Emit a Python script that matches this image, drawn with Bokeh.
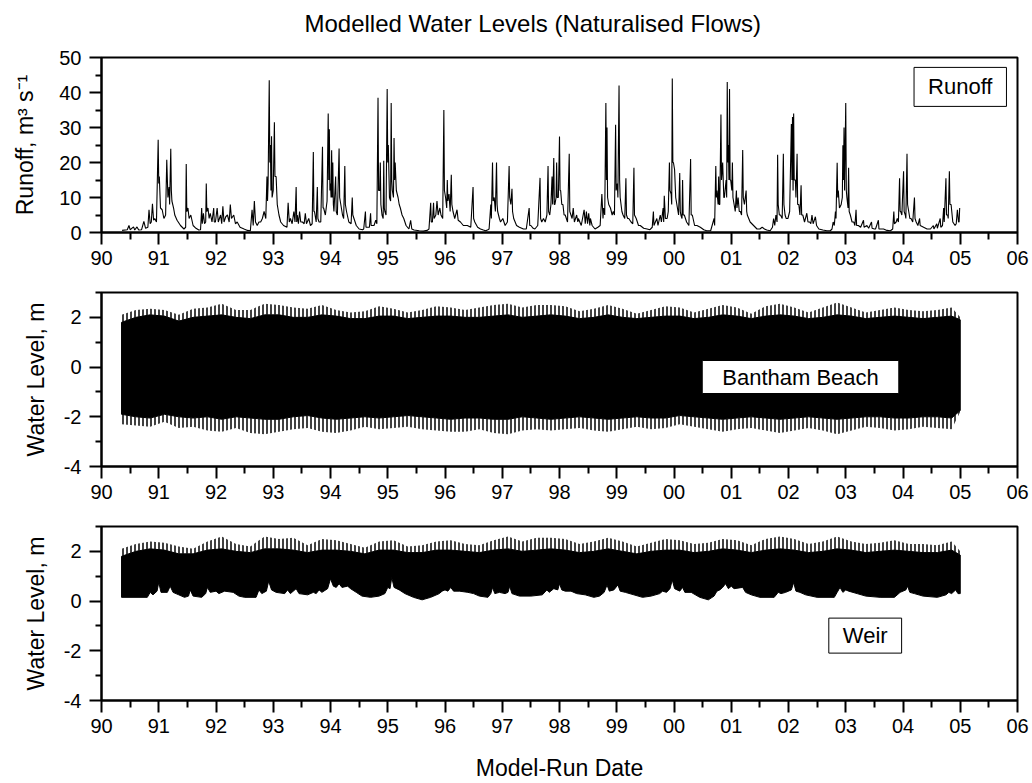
from bokeh.plotting import figure
from bokeh.layouts import column
from bokeh.models import FixedTicker, Label, Range1d, Title
from bokeh.embed import file_html
from bokeh.resources import INLINE

FONT = "Liberation Sans"

# ---------------- data ----------------
year_ticks = list(range(90, 107))
year_labels = ["90", "91", "92", "93", "94", "95", "96", "97", "98", "99",
               "00", "01", "02", "03", "04", "05", "06"]
year_minor = [90.5, 91.5, 92.5, 93.5, 94.5, 95.5, 96.5, 97.5, 98.5, 99.5,
              100.5, 101.5, 102.5, 103.5, 104.5, 105.5]
runoff_ticks = [0, 10, 20, 30, 40, 50]
runoff_labels = ["0", "10", "20", "30", "40", "50"]
runoff_minor = [5, 15, 25, 35, 45]
level_ticks = [-4, -2, 0, 2]
level_labels = ["-4", "-2", "0", "2"]
level_minor = [-3, -1, 1, 3]

runoff_t = [
    90.36, 90.45, 90.48, 90.50, 90.56, 90.58, 90.62, 90.65, 90.70, 90.74,
    90.77, 90.81, 90.83, 90.85, 90.87, 90.89, 90.91, 90.93, 90.96, 90.99,
    91.00, 91.01, 91.03, 91.06, 91.09, 91.12, 91.14, 91.16, 91.18, 91.19,
    91.21, 91.22, 91.23, 91.26, 91.28, 91.32, 91.38, 91.44, 91.47, 91.48,
    91.49, 91.51, 91.53, 91.56, 91.60, 91.65, 91.70, 91.73, 91.75, 91.76,
    91.78, 91.80, 91.82, 91.83, 91.84, 91.86, 91.88, 91.90, 91.93, 91.96,
    91.97, 91.99, 92.02, 92.04, 92.08, 92.10, 92.12, 92.14, 92.17, 92.20,
    92.23, 92.25, 92.27, 92.31, 92.34, 92.37, 92.42, 92.49, 92.55, 92.60,
    92.63, 92.65, 92.67, 92.69, 92.72, 92.75, 92.78, 92.81, 92.84, 92.87,
    92.89, 92.90, 92.91, 92.93, 92.94, 92.95, 92.96, 92.97, 92.98, 93.00,
    93.02, 93.03, 93.05, 93.07, 93.10, 93.13, 93.18, 93.24, 93.26, 93.28,
    93.30, 93.33, 93.36, 93.38, 93.40, 93.41, 93.42, 93.44, 93.46, 93.48,
    93.51, 93.54, 93.56, 93.58, 93.62, 93.65, 93.68, 93.70, 93.71, 93.72,
    93.75, 93.77, 93.78, 93.80, 93.83, 93.86, 93.87, 93.88, 93.91, 93.94,
    93.96, 93.97, 93.98, 93.99, 94.00, 94.01, 94.02, 94.03, 94.04, 94.05,
    94.06, 94.09, 94.10, 94.12, 94.15, 94.16, 94.18, 94.21, 94.23, 94.25,
    94.26, 94.28, 94.32, 94.36, 94.38, 94.39, 94.41, 94.45, 94.50, 94.56,
    94.58, 94.61, 94.62, 94.64, 94.68, 94.70, 94.71, 94.73, 94.76, 94.79,
    94.81, 94.83, 94.84, 94.86, 94.87, 94.88, 94.90, 94.92, 94.93, 94.94,
    94.95, 94.97, 94.99, 95.00, 95.01, 95.03, 95.05, 95.06, 95.07, 95.08,
    95.10, 95.11, 95.12, 95.13, 95.15, 95.18, 95.20, 95.22, 95.25, 95.28,
    95.32, 95.37, 95.40, 95.42, 95.46, 95.55, 95.62, 95.69, 95.72, 95.75,
    95.76, 95.78, 95.80, 95.81, 95.84, 95.86, 95.88, 95.91, 95.93, 95.96,
    95.98, 95.99, 96.01, 96.03, 96.04, 96.05, 96.07, 96.09, 96.11, 96.12,
    96.14, 96.17, 96.21, 96.23, 96.27, 96.32, 96.39, 96.45, 96.49, 96.50,
    96.52, 96.57, 96.62, 96.67, 96.71, 96.75, 96.77, 96.80, 96.81, 96.83,
    96.84, 96.86, 96.88, 96.90, 96.91, 96.92, 96.95, 96.97, 97.01, 97.05,
    97.09, 97.12, 97.13, 97.15, 97.17, 97.18, 97.20, 97.25, 97.30, 97.37,
    97.42, 97.47, 97.48, 97.50, 97.54, 97.57, 97.62, 97.66, 97.67, 97.69,
    97.72, 97.75, 97.78, 97.80, 97.81, 97.83, 97.85, 97.87, 97.88, 97.90,
    97.91, 97.92, 97.94, 97.95, 97.96, 97.98, 98.00, 98.01, 98.02, 98.04,
    98.06, 98.08, 98.10, 98.14, 98.17, 98.18, 98.20, 98.22, 98.24, 98.26,
    98.30, 98.32, 98.33, 98.38, 98.43, 98.45, 98.47, 98.49, 98.51, 98.53,
    98.54, 98.57, 98.62, 98.67, 98.71, 98.74, 98.76, 98.77, 98.79, 98.81,
    98.82, 98.83, 98.84, 98.86, 98.89, 98.92, 98.94, 98.96, 98.98, 98.99,
    99.01, 99.02, 99.04, 99.05, 99.06, 99.09, 99.11, 99.14, 99.16, 99.17,
    99.19, 99.21, 99.25, 99.28, 99.30, 99.31, 99.34, 99.38, 99.41, 99.47,
    99.53, 99.58, 99.62, 99.64, 99.65, 99.70, 99.72, 99.76, 99.78, 99.81,
    99.82, 99.83, 99.85, 99.88, 99.90, 99.92, 99.93, 99.95, 99.96, 99.97,
    99.98, 99.99, 100.01, 100.03, 100.05, 100.08, 100.10, 100.11, 100.12, 100.14,
    100.15, 100.16, 100.18, 100.22, 100.26, 100.29, 100.30, 100.32, 100.36, 100.40,
    100.46, 100.52, 100.57, 100.64, 100.70, 100.71, 100.73, 100.74, 100.75, 100.77,
    100.78, 100.79, 100.80, 100.82, 100.83, 100.85, 100.87, 100.88, 100.91, 100.92,
    100.93, 100.94, 100.95, 100.96, 100.97, 100.98, 100.99, 101.01, 101.02, 101.03,
    101.05, 101.07, 101.09, 101.10, 101.12, 101.14, 101.16, 101.18, 101.20, 101.21,
    101.23, 101.26, 101.27, 101.28, 101.33, 101.39, 101.45, 101.50, 101.54, 101.58,
    101.62, 101.68, 101.72, 101.74, 101.76, 101.78, 101.80, 101.81, 101.82, 101.84,
    101.86, 101.89, 101.91, 101.92, 101.94, 101.96, 101.99, 102.02, 102.05, 102.06,
    102.07, 102.08, 102.09, 102.10, 102.12, 102.13, 102.15, 102.16, 102.18, 102.20,
    102.22, 102.23, 102.25, 102.28, 102.32, 102.34, 102.37, 102.39, 102.41, 102.43,
    102.47, 102.49, 102.53, 102.60, 102.67, 102.73, 102.76, 102.78, 102.80, 102.82,
    102.83, 102.85, 102.86, 102.87, 102.89, 102.92, 102.94, 102.95, 102.96, 102.97,
    102.98, 103.00, 103.01, 103.02, 103.04, 103.05, 103.06, 103.08, 103.11, 103.14,
    103.16, 103.18, 103.19, 103.22, 103.26, 103.31, 103.32, 103.37, 103.40, 103.45,
    103.46, 103.50, 103.52, 103.57, 103.58, 103.66, 103.72, 103.78, 103.82, 103.84,
    103.85, 103.88, 103.90, 103.92, 103.94, 103.95, 103.96, 103.98, 104.01, 104.02,
    104.04, 104.05, 104.07, 104.08, 104.10, 104.12, 104.14, 104.17, 104.20, 104.21,
    104.23, 104.26, 104.29, 104.30, 104.36, 104.42, 104.48, 104.53, 104.54, 104.59,
    104.60, 104.65, 104.66, 104.69, 104.71, 104.72, 104.75, 104.76, 104.78, 104.79,
    104.81, 104.82, 104.84, 104.87, 104.91, 104.93, 104.95, 104.97, 104.98, 104.99,
]
runoff_q = [
    0.6, 0.8, 2.0, 0.8, 1.6, 0.7, 1.6, 0.7, 0.8, 3.2,
    1.2, 1.5, 6.5, 2.5, 3.0, 8.2, 3.5, 4.0, 3.0, 26.5,
    14.0, 16.0, 7.0, 6.5, 4.0, 5.0, 20.8, 10.0, 13.0, 8.0,
    23.9, 12.0, 9.0, 6.9, 5.0, 3.5, 2.0, 1.0, 1.5, 19.6,
    6.0, 7.0, 4.0, 5.0, 2.0, 1.2, 0.7, 0.8, 7.0, 2.5,
    5.5, 2.5, 3.0, 14.0, 6.0, 7.0, 4.0, 5.5, 3.0, 7.0,
    3.0, 3.0, 7.0, 3.0, 5.0, 2.5, 7.5, 3.0, 4.5, 5.0,
    3.0, 8.0, 4.0, 5.0, 2.5, 3.0, 1.5, 1.0, 0.6, 0.5,
    6.5, 2.0, 9.0, 3.0, 2.0, 3.0, 3.0, 4.0, 6.0, 4.0,
    16.0, 9.0, 14.0, 43.5, 20.0, 25.0, 12.0, 27.5, 10.0, 12.0,
    31.5, 16.0, 16.0, 8.0, 5.0, 3.0, 2.0, 1.5, 8.5, 3.0,
    4.0, 2.5, 6.0, 3.0, 13.0, 3.0, 5.0, 2.5, 6.0, 3.0,
    3.0, 2.5, 5.5, 2.5, 4.0, 2.0, 2.5, 23.0, 6.0, 6.0,
    3.0, 13.0, 4.0, 3.0, 3.0, 24.5, 7.0, 7.0, 5.0, 9.0,
    34.0, 15.0, 29.5, 12.0, 14.0, 10.0, 23.5, 10.0, 20.0, 8.0,
    6.0, 16.0, 6.0, 5.0, 24.0, 10.0, 8.0, 5.0, 4.0, 19.0,
    8.0, 6.0, 3.0, 2.5, 10.0, 5.0, 4.0, 2.0, 1.0, 0.8,
    1.0, 6.0, 1.5, 1.5, 1.5, 5.5, 2.0, 2.0, 2.0, 3.5,
    2.5, 38.5, 12.0, 12.0, 20.0, 8.0, 5.0, 4.0, 20.5, 7.0,
    6.0, 5.0, 41.0, 20.0, 25.0, 10.0, 9.0, 37.0, 15.0, 12.0,
    10.0, 27.0, 15.0, 20.0, 12.0, 10.0, 8.0, 7.0, 5.0, 4.0,
    2.0, 1.0, 3.5, 1.0, 0.7, 0.5, 0.4, 0.6, 1.0, 8.5,
    3.0, 3.0, 8.5, 4.0, 5.0, 9.0, 5.0, 7.0, 5.0, 4.0,
    35.0, 12.0, 10.0, 7.0, 15.0, 9.0, 11.0, 6.0, 16.5, 8.0,
    6.0, 4.0, 6.5, 3.5, 3.0, 2.0, 2.0, 1.5, 13.0, 4.0,
    3.0, 1.5, 1.0, 0.7, 0.5, 0.8, 1.0, 8.0, 4.0, 20.0,
    9.0, 10.0, 6.0, 20.0, 8.0, 6.0, 4.0, 3.0, 4.0, 2.0,
    3.0, 19.0, 10.0, 8.0, 12.5, 6.0, 4.0, 2.0, 1.5, 1.0,
    1.0, 7.0, 2.0, 2.0, 1.2, 1.0, 2.0, 15.6, 4.0, 3.0,
    4.0, 3.0, 5.0, 19.0, 6.0, 5.0, 8.0, 16.0, 8.0, 21.3,
    8.0, 8.0, 10.0, 20.0, 10.0, 10.0, 27.4, 12.0, 12.0, 8.0,
    8.0, 5.0, 5.0, 3.0, 22.5, 6.0, 5.0, 4.0, 7.0, 3.0,
    5.0, 3.0, 4.0, 2.0, 6.5, 2.5, 6.0, 2.5, 5.5, 2.0,
    4.0, 2.0, 1.0, 1.5, 2.0, 11.0, 4.0, 7.0, 5.0, 37.0,
    15.0, 30.0, 10.0, 8.0, 7.0, 5.0, 6.0, 5.0, 30.8, 12.0,
    14.0, 10.0, 42.0, 15.0, 10.0, 6.0, 5.0, 4.0, 15.5, 5.0,
    4.0, 4.0, 3.0, 2.5, 18.5, 5.0, 4.0, 2.0, 2.0, 1.2,
    1.0, 0.8, 1.5, 6.0, 2.0, 4.0, 2.0, 5.0, 3.0, 7.0,
    3.0, 10.5, 4.0, 4.0, 6.0, 20.0, 12.0, 11.0, 8.0, 44.0,
    20.0, 20.0, 18.0, 10.0, 8.0, 5.0, 17.0, 6.0, 5.0, 4.0,
    15.0, 5.0, 5.0, 3.0, 2.0, 21.0, 5.0, 5.0, 2.0, 2.0,
    1.5, 0.8, 0.5, 0.5, 4.0, 2.0, 19.0, 10.0, 12.0, 8.0,
    16.0, 8.0, 8.0, 33.7, 15.0, 20.0, 10.0, 10.0, 15.0, 10.0,
    43.0, 20.0, 25.0, 15.0, 41.0, 15.0, 15.0, 12.0, 20.0, 10.0,
    8.0, 6.0, 12.0, 7.0, 10.0, 6.0, 6.0, 5.0, 23.6, 10.0,
    8.0, 12.0, 6.0, 5.0, 3.0, 2.0, 1.0, 1.0, 1.5, 1.0,
    0.7, 0.5, 1.5, 4.0, 2.0, 5.0, 3.0, 22.2, 8.0, 5.0,
    5.0, 4.0, 22.5, 8.0, 5.0, 4.0, 4.0, 6.0, 31.0, 15.0,
    33.0, 12.0, 34.0, 15.0, 15.0, 10.0, 22.5, 8.0, 8.0, 5.0,
    13.5, 5.0, 5.0, 3.0, 5.5, 3.0, 3.0, 2.5, 5.0, 2.5,
    4.5, 2.0, 1.0, 0.7, 0.5, 0.5, 1.0, 3.0, 2.0, 6.0,
    4.0, 19.9, 10.0, 12.0, 7.0, 8.0, 10.0, 24.9, 15.0, 30.0,
    12.0, 37.0, 12.0, 10.0, 7.0, 18.5, 6.0, 5.0, 3.0, 3.0,
    2.0, 6.5, 2.0, 2.0, 1.5, 3.5, 1.5, 2.0, 1.2, 3.0,
    1.2, 1.0, 1.0, 3.5, 1.0, 1.0, 0.6, 0.5, 1.0, 6.0,
    2.5, 3.0, 4.0, 3.0, 15.5, 6.0, 6.0, 5.0, 17.5, 6.0,
    5.0, 4.0, 22.5, 8.0, 6.0, 4.0, 4.0, 3.0, 10.0, 4.0,
    3.0, 2.0, 4.0, 2.0, 1.5, 1.0, 1.0, 2.0, 1.0, 2.5,
    1.2, 4.0, 1.5, 2.0, 7.0, 3.0, 15.5, 5.0, 5.0, 4.0,
    17.5, 8.0, 8.0, 3.0, 2.0, 2.5, 6.5, 3.0, 3.0, 7.0,
]

# water-level envelopes (quarter-year steps)
wl_t = [
    90.35, 90.6, 90.85, 91.1, 91.35, 91.6, 91.85, 92.1, 92.35, 92.6,
    92.85, 93.1, 93.35, 93.6, 93.85, 94.1, 94.35, 94.6, 94.85, 95.1,
    95.35, 95.6, 95.85, 96.1, 96.35, 96.6, 96.85, 97.1, 97.35, 97.6,
    97.85, 98.1, 98.35, 98.6, 98.85, 99.1, 99.35, 99.6, 99.85, 100.1,
    100.35, 100.6, 100.85, 101.1, 101.35, 101.6, 101.85, 102.1, 102.35, 102.6,
    102.85, 103.1, 103.35, 103.6, 103.85, 104.1, 104.35, 104.6, 104.85, 105.0,
]
bantham_high_peak = [
    2.1, 2.3, 2.35, 2.3, 2.1, 2.35, 2.4, 2.55, 2.3, 2.3,
    2.55, 2.5, 2.4, 2.35, 2.5, 2.3, 2.2, 2.25, 2.45, 2.35,
    2.2, 2.3, 2.45, 2.4, 2.3, 2.4, 2.5, 2.55, 2.4, 2.5,
    2.5, 2.45, 2.25, 2.35, 2.5, 2.35, 2.15, 2.3, 2.45, 2.4,
    2.2, 2.35, 2.5, 2.4, 2.15, 2.45, 2.55, 2.4, 2.2, 2.4,
    2.6, 2.4, 2.2, 2.3, 2.4, 2.3, 2.25, 2.3, 2.4, 2.0,
]
bantham_high = [
    1.8, 2.0, 2.1, 2.05, 1.85, 2.0, 2.05, 2.1, 2.0, 1.95,
    2.1, 2.1, 2.0, 2.0, 2.1, 2.05, 1.95, 1.95, 2.05, 2.05,
    1.95, 2.0, 2.05, 2.05, 2.0, 2.0, 2.05, 2.1, 2.0, 2.05,
    2.1, 2.05, 1.95, 2.0, 2.1, 2.0, 1.95, 2.0, 2.05, 2.05,
    1.95, 2.0, 2.1, 2.05, 1.95, 2.05, 2.1, 2.05, 1.95, 2.0,
    2.1, 2.05, 1.95, 2.0, 2.05, 2.0, 1.95, 2.0, 2.05, 1.9,
]
bantham_low = [
    -1.9, -2.0, -2.05, -1.9, -2.0, -2.05, -2.0, -2.1, -2.0, -2.05,
    -2.1, -2.1, -2.0, -1.95, -2.05, -2.1, -2.05, -2.0, -2.05, -2.0,
    -1.95, -2.0, -2.05, -2.1, -2.05, -2.05, -2.1, -2.1, -2.0, -2.05,
    -2.1, -2.05, -2.0, -2.05, -2.1, -2.05, -2.0, -2.05, -2.05, -1.95,
    -2.0, -2.05, -2.1, -2.05, -2.0, -2.05, -2.1, -2.05, -2.0, -2.05,
    -2.1, -2.05, -2.0, -2.0, -2.05, -2.05, -2.0, -2.0, -2.05, -1.75,
]
bantham_low_peak = [
    -2.3, -2.35, -2.4, -2.2, -2.45, -2.4, -2.55, -2.6, -2.45, -2.65,
    -2.7, -2.6, -2.5, -2.45, -2.6, -2.65, -2.55, -2.4, -2.5, -2.45,
    -2.4, -2.5, -2.55, -2.6, -2.6, -2.5, -2.65, -2.7, -2.55, -2.5,
    -2.55, -2.5, -2.45, -2.55, -2.6, -2.5, -2.4, -2.5, -2.45, -2.3,
    -2.4, -2.5, -2.6, -2.5, -2.45, -2.55, -2.65, -2.55, -2.45, -2.55,
    -2.7, -2.55, -2.4, -2.45, -2.55, -2.5, -2.4, -2.45, -2.5, -1.8,
]
weir_high_peak = [
    2.1, 2.3, 2.4, 2.35, 2.2, 2.1, 2.4, 2.6, 2.3, 2.2,
    2.6, 2.5, 2.55, 2.25, 2.5, 2.45, 2.3, 2.15, 2.4, 2.45,
    2.2, 2.25, 2.4, 2.45, 2.3, 2.25, 2.45, 2.6, 2.4, 2.55,
    2.55, 2.5, 2.3, 2.4, 2.55, 2.4, 2.2, 2.35, 2.5, 2.45,
    2.3, 2.35, 2.5, 2.45, 2.25, 2.5, 2.6, 2.5, 2.3, 2.4,
    2.6, 2.4, 2.3, 2.35, 2.45, 2.3, 2.3, 2.25, 2.4, 2.0,
]
weir_high = [
    1.8, 2.0, 2.1, 2.05, 1.9, 1.9, 2.05, 2.1, 2.0, 1.95,
    2.1, 2.1, 2.05, 1.95, 2.05, 2.05, 2.0, 1.9, 2.05, 2.05,
    1.95, 1.95, 2.05, 2.05, 2.0, 1.95, 2.05, 2.1, 2.0, 2.05,
    2.1, 2.05, 1.95, 2.0, 2.1, 2.0, 1.9, 2.0, 2.05, 2.05,
    1.95, 2.0, 2.1, 2.05, 1.95, 2.05, 2.1, 2.05, 1.95, 2.0,
    2.1, 2.05, 1.95, 2.0, 2.05, 2.0, 1.95, 1.95, 2.05, 1.85,
]
weir_low_t = [
    90.35, 90.8, 90.85, 90.9, 90.97, 91.0, 91.04, 91.15, 91.2, 91.25,
    91.35, 91.45, 91.52, 91.55, 91.6, 91.75, 91.82, 91.85, 91.9, 92.0,
    92.05, 92.15, 92.3, 92.4, 92.5, 92.7, 92.75, 92.8, 92.88, 92.92,
    92.97, 93.05, 93.2, 93.25, 93.3, 93.4, 93.45, 93.6, 93.7, 93.75,
    93.8, 93.85, 93.95, 94.0, 94.05, 94.1, 94.15, 94.2, 94.3, 94.35,
    94.45, 94.55, 94.7, 94.85, 94.95, 95.0, 95.04, 95.07, 95.11, 95.2,
    95.3, 95.45, 95.6, 95.75, 95.9, 95.95, 96.0, 96.05, 96.1, 96.15,
    96.25, 96.4, 96.5, 96.6, 96.75, 96.8, 96.83, 96.87, 96.95, 97.05,
    97.1, 97.13, 97.17, 97.3, 97.5, 97.7, 97.78, 97.82, 97.9, 97.97,
    98.0, 98.04, 98.1, 98.2, 98.3, 98.45, 98.6, 98.7, 98.78, 98.83,
    98.87, 98.95, 99.02, 99.06, 99.15, 99.3, 99.45, 99.6, 99.75, 99.8,
    99.87, 99.93, 99.97, 100.01, 100.1, 100.15, 100.19, 100.3, 100.45, 100.6,
    100.7, 100.75, 100.8, 100.85, 100.9, 100.95, 101.0, 101.05, 101.2, 101.25,
    101.35, 101.5, 101.75, 101.82, 101.87, 101.95, 102.05, 102.09, 102.13, 102.2,
    102.3, 102.5, 102.8, 102.85, 102.9, 102.95, 103.0, 103.05, 103.2, 103.35,
    103.6, 103.85, 103.95, 104.05, 104.08, 104.12, 104.2, 104.35, 104.6, 104.75,
    104.8, 104.85, 104.92, 104.96, 105.0,
]
weir_low = [
    0.15, 0.15, 0.35, 0.25, 0.4, 0.75, 0.35, 0.35, 0.6, 0.35,
    0.25, 0.15, 0.2, 0.45, 0.2, 0.15, 0.3, 0.55, 0.35, 0.4,
    0.3, 0.4, 0.35, 0.2, 0.15, 0.15, 0.45, 0.3, 0.4, 0.8,
    0.45, 0.35, 0.3, 0.45, 0.3, 0.5, 0.3, 0.25, 0.35, 0.3,
    0.45, 0.35, 0.5, 0.9, 0.6, 0.55, 0.7, 0.55, 0.6, 0.5,
    0.35, 0.2, 0.15, 0.2, 0.3, 0.55, 0.5, 0.95, 0.55, 0.45,
    0.3, 0.15, 0.05, 0.15, 0.3, 0.4, 0.45, 0.4, 0.55, 0.4,
    0.4, 0.35, 0.3, 0.2, 0.15, 0.3, 0.55, 0.3, 0.35, 0.3,
    0.35, 0.6, 0.3, 0.2, 0.2, 0.25, 0.45, 0.35, 0.5, 0.45,
    0.7, 0.45, 0.4, 0.4, 0.3, 0.25, 0.15, 0.2, 0.35, 0.65,
    0.4, 0.45, 0.65, 0.4, 0.35, 0.25, 0.15, 0.2, 0.3, 0.4,
    0.35, 0.5, 0.85, 0.5, 0.4, 0.55, 0.35, 0.35, 0.15, 0.05,
    0.2, 0.4, 0.45, 0.55, 0.7, 0.5, 0.6, 0.5, 0.55, 0.35,
    0.25, 0.15, 0.15, 0.35, 0.3, 0.35, 0.45, 0.75, 0.4, 0.35,
    0.25, 0.15, 0.15, 0.35, 0.55, 0.35, 0.45, 0.4, 0.3, 0.2,
    0.15, 0.15, 0.35, 0.45, 0.6, 0.35, 0.3, 0.2, 0.15, 0.25,
    0.35, 0.3, 0.45, 0.3, 0.3,
]

assert len(runoff_t) == len(runoff_q)
assert len(weir_low_t) == len(weir_low)
for arr in (bantham_high_peak, bantham_high, bantham_low, bantham_low_peak,
            weir_high_peak, weir_high):
    assert len(arr) == len(wl_t)


def style(p, yticks, ylabels, yminor, ylabel):
    p.xgrid.visible = False
    p.ygrid.visible = False
    p.outline_line_color = "black"
    p.outline_line_width = 2
    p.outline_line_alpha = 1
    p.background_fill_color = "white"
    p.border_fill_color = "white"
    p.xaxis.ticker = FixedTicker(ticks=year_ticks, minor_ticks=year_minor)
    p.xaxis.major_label_overrides = dict(zip(year_ticks, year_labels))
    p.yaxis.ticker = FixedTicker(ticks=yticks, minor_ticks=yminor)
    p.yaxis.major_label_overrides = dict(zip(yticks, ylabels))
    for ax in (p.xaxis[0], p.yaxis[0]):
        ax.axis_line_width = 2
        ax.major_tick_line_width = 2
        ax.minor_tick_line_width = 2
        ax.major_tick_in = 0
        ax.minor_tick_in = 0
        ax.major_tick_out = 12
        ax.major_label_text_font = FONT
        ax.major_label_text_font_size = "20px"
        ax.major_label_text_color = "black"
        ax.axis_label_text_font = FONT
        ax.axis_label_text_font_size = "23px"
        ax.axis_label_text_font_style = "normal"
        ax.axis_label_text_color = "black"
    p.xaxis.minor_tick_out = 7
    p.yaxis.minor_tick_out = 6
    p.xaxis.major_label_standoff = 6
    p.yaxis.major_label_standoff = 8
    p.yaxis.axis_label = ylabel
    p.yaxis.axis_label_standoff = 12


def make(height, top, bottom, yr):
    return figure(width=1032, height=height, x_range=Range1d(90, 106), y_range=Range1d(*yr),
                  output_backend="svg", toolbar_location=None,
                  min_border_left=101, min_border_right=15,
                  min_border_top=top, min_border_bottom=bottom)


def box_label(p, x, y, text, padx, pady):
    p.add_layout(Label(x=x, y=y, text=text, text_align="center", text_baseline="middle",
                       text_font=FONT, text_font_size="22px", text_color="black",
                       background_fill_color="white", background_fill_alpha=1,
                       border_line_color="black", border_line_width=1,
                       padding=dict(left=padx, right=padx, top=pady, bottom=pady)))


# ---- Runoff panel ----
p1 = make(283, 57, 51, (0, 50))
style(p1, runoff_ticks, runoff_labels, runoff_minor, "Runoff, m\u00b3 s\u207b\u00b9")
p1.yaxis.axis_label_standoff = 18
p1.line(runoff_t, runoff_q, line_color="black", line_width=1.1)
# spacer (nearest the frame) then the chart title above it
p1.add_layout(Title(text=" ", text_font=FONT, text_font_size="10px", standoff=1), "above")
p1.add_layout(Title(text="Modelled Water Levels (Naturalised Flows)", text_font=FONT,
                    text_font_size="24px", text_font_style="normal", text_color="black",
                    align="left", offset=203, standoff=13, vertical_align="bottom"), "above")
box_label(p1, 105.0, 41.6, "Runoff", 14, 7)

# ---- Bantham Beach panel ----
p2 = make(229, 9, 46, (-4, 3))
style(p2, level_ticks, level_labels, level_minor, "Water Level, m")
p2.patch(wl_t + wl_t[::-1], bantham_high + bantham_low[::-1],
         fill_color="black", line_color="black", line_width=1)
p2.varea(x=wl_t, y1=bantham_high, y2=bantham_high_peak, fill_alpha=0,
         hatch_pattern="|", hatch_color="black", hatch_weight=1.5, hatch_scale=4)
p2.varea(x=wl_t, y1=bantham_low_peak, y2=bantham_low, fill_alpha=0,
         hatch_pattern="|", hatch_color="black", hatch_weight=1.5, hatch_scale=4)
box_label(p2, 102.21, -0.4, "Bantham Beach", 20, 4)

# ---- Weir panel ----
p3 = make(271, 14, 83, (-4, 3))
style(p3, level_ticks, level_labels, level_minor, "Water Level, m")
p3.patch(wl_t + weir_low_t[::-1], weir_high + weir_low[::-1],
         fill_color="black", line_color="black", line_width=1)
p3.varea(x=wl_t, y1=weir_high, y2=weir_high_peak, fill_alpha=0,
         hatch_pattern="|", hatch_color="black", hatch_weight=1.5, hatch_scale=4)
p3.xaxis.axis_label = "Model-Run Date"
p3.xaxis.axis_label_standoff = 19
box_label(p3, 103.34, -1.39, "Weir", 14, 5)

layout = column(p1, p2, p3, spacing=0)
open("out.html", "w").write(file_html(layout, INLINE))
